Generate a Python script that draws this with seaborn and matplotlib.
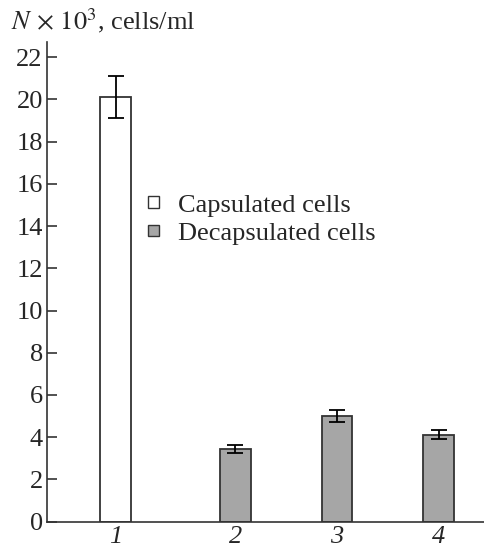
import matplotlib
matplotlib.use("Agg")
import matplotlib.pyplot as plt
import seaborn as sns
import pandas as pd

# data
labels = ["1", "2", "3", "4"]
positions = [0.82, 2.0, 3.0, 4.0]
values = [20.1, 3.45, 5.0, 4.12]
errors = [1.0, 0.2, 0.28, 0.22]
groups = ["Capsulated cells", "Decapsulated cells", "Decapsulated cells", "Decapsulated cells"]
yticks = list(range(0, 23, 2))

sns.set_theme(style="ticks")
plt.rcParams["font.family"] = ["Liberation Serif", "DejaVu Serif"]
plt.rcParams["mathtext.fontset"] = "stix"

df = pd.DataFrame({"pos": positions, "value": values, "group": groups})

fig = plt.figure(figsize=(4.84, 5.48), dpi=100)
ax = fig.add_axes([0.097, 0.048, 0.903, 0.876])

sns.barplot(data=df, x="pos", y="value", hue="group", native_scale=True, dodge=False,
            width=0.305, palette={"Capsulated cells": "white", "Decapsulated cells": "#a6a6a6"},
            edgecolor="#333333", linewidth=1.3, ax=ax, errorbar=None, legend=True)
ax.errorbar(positions, values, yerr=errors, fmt="none", ecolor="black", elinewidth=1.3,
            capsize=5.5, capthick=1.3)

ax.set_xlim(0.143, 4.448)
ax.set_ylim(0, 22.73)
ax.set_yticks(yticks)
ax.set_yticklabels([str(t) for t in yticks], fontsize=19)
ax.set_xticks(positions)
ax.set_xticklabels(labels, fontsize=19, style="italic")
ax.tick_params(axis="y", direction="in", length=7, width=1.2, pad=3, color="#333333")
ax.tick_params(axis="x", length=0, pad=3)
ax.set_xlabel("")
ax.set_ylabel("")
for s in ["top", "right"]:
    ax.spines[s].set_visible(False)
for s in ["left", "bottom"]:
    ax.spines[s].set_color("#333333")
    ax.spines[s].set_linewidth(1.2)

leg = ax.legend(loc="upper left", bbox_to_anchor=(0.305, 0.645), bbox_transform=fig.transFigure,
                frameon=False, fontsize=19, handlelength=0.42, handleheight=0.27,
                handletextpad=0.72, labelspacing=0.25, borderaxespad=0, borderpad=0)
for h in leg.legend_handles:
    h.set_linewidth(1.0)

fig.text(0.022, 0.962, r"$N\,\times\,10^3$, cells/ml", fontsize=19, va="center", ha="left")

fig.savefig("out.png", dpi=100)
